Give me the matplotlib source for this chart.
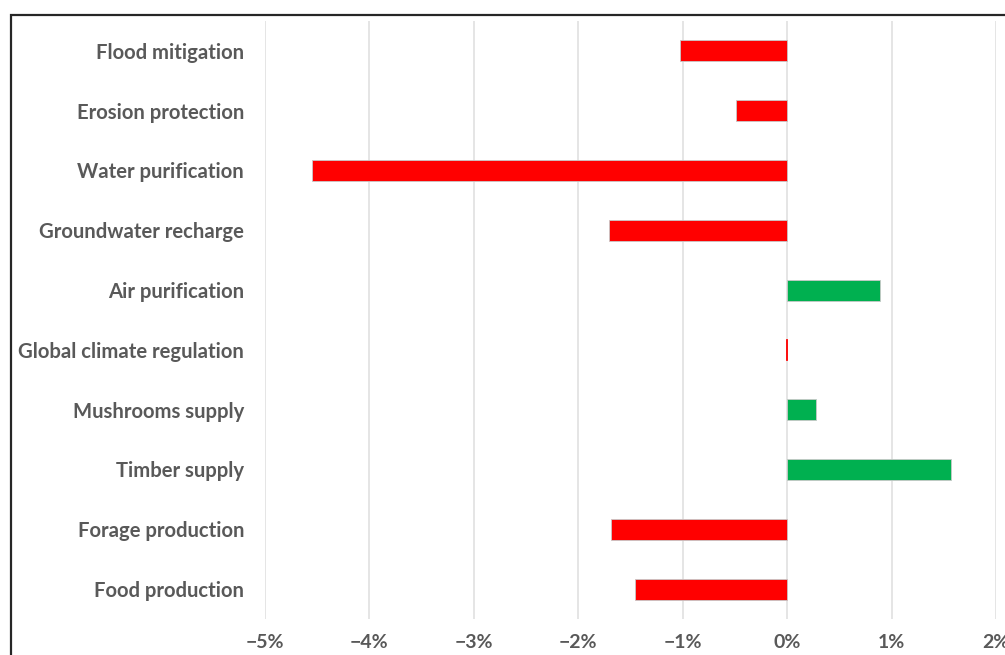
import matplotlib.pyplot as plt
from matplotlib.patches import Rectangle
from matplotlib.ticker import FuncFormatter

services = [
    "Flood mitigation",
    "Erosion protection",
    "Water purification",
    "Groundwater recharge",
    "Air purification",
    "Global climate regulation",
    "Mushrooms supply",
    "Timber supply",
    "Forage production",
    "Food production",
]
# change in service value (%)
change = [-1.03, -0.49, -4.55, -1.71, 0.89, -0.015, 0.28, 1.57, -1.69, -1.46]

plt.rcParams['font.family'] = ['Lato', 'DejaVu Sans']

fig = plt.figure(figsize=(10.05, 6.55), dpi=100)
ax = fig.add_axes([265 / 1005, 36 / 655, 731 / 1005, 598 / 655])

colors = ['#00B050' if v > 0 else '#FF0000' for v in change]
edges = ['#C8C8C8' if abs(v) > 0.05 else c for v, c in zip(change, colors)]
ax.barh(range(len(services)), change, height=0.35, color=colors,
        edgecolor=edges, linewidth=0.6, zorder=3)

ax.set_xlim(-5, 2)
ax.set_ylim(len(services) - 0.5, -0.5)
ax.set_xticks(range(-5, 3))
ax.xaxis.set_major_formatter(FuncFormatter(lambda v, p: f"{int(v)}%".replace('-', '\u2212')))
ax.set_yticks(range(len(services)))
ax.set_yticklabels(services)

ax.grid(axis='x', color='#E3E3E3', linewidth=1.3, zorder=0)
for s in ax.spines.values():
    s.set_visible(False)
ax.tick_params(axis='both', length=0, labelcolor='#595959')
ax.tick_params(axis='y', pad=15, labelsize=14.6)
ax.tick_params(axis='x', pad=11, labelsize=14)
for lbl in ax.get_xticklabels() + ax.get_yticklabels():
    lbl.set_fontweight('bold')

# outer frame of the chart area
fig.patches.append(Rectangle((11, -20), 1100, 660, transform=None,
                             fill=False, edgecolor='#262626', linewidth=1.6))

fig.savefig('out.png', dpi=100)
